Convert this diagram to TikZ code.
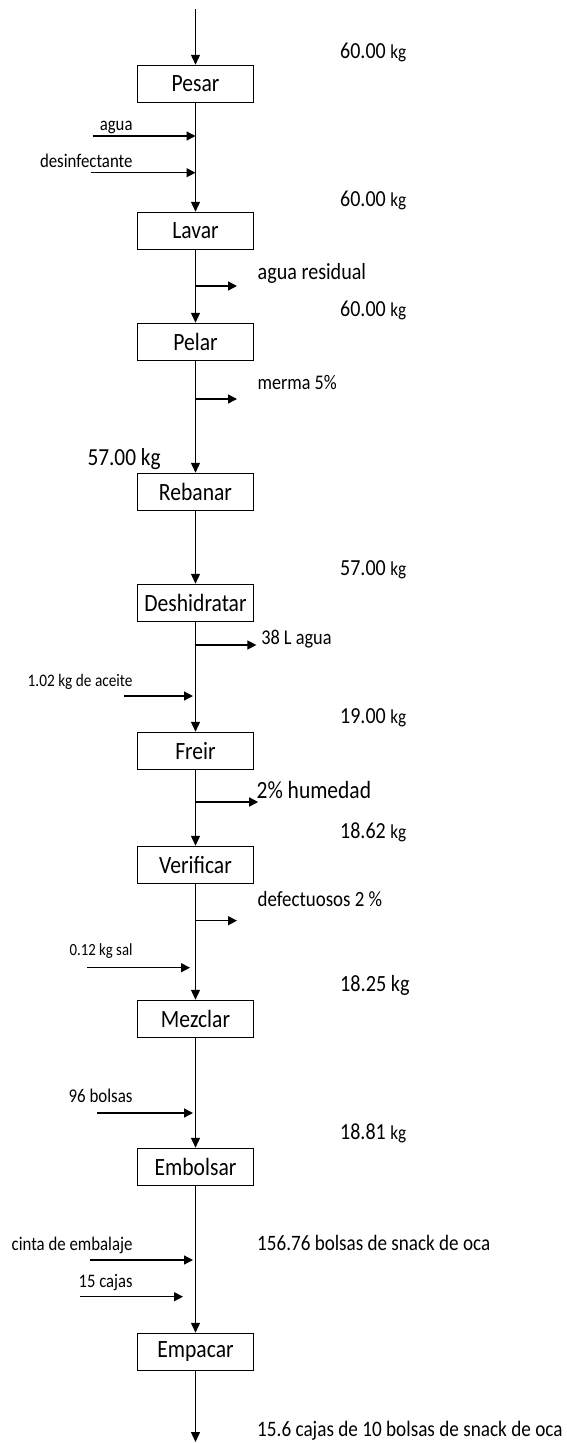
\documentclass[tikz,border=0pt]{standalone}
\usepackage{fontspec}
\setmainfont{Carlito}
\usepackage{graphicx}
\usetikzlibrary{arrows.meta}

% text is set slightly tall and narrow
\newcommand{\tall}[1]{\scalebox{1}[1.15]{#1}}
\newcommand{\fs}[1]{\fontsize{#1}{#1}\selectfont}
% a mass value: figure in a larger size, unit in a smaller one
\newcommand{\massval}[1]{\tall{\fs{20}#1 \fs{17.2}kg}}

\begin{document}
\begin{tikzpicture}[x=1pt,y=-1pt,
  stepbox/.style={draw, line width=1.5pt, minimum width=116pt, minimum height=37pt,
                  inner sep=0pt, font=\fs{21.6}},
  flow/.style={line width=1.4pt, -{Triangle[length=10pt,width=9pt]}},
  side/.style={line width=1.4pt, -{Triangle[length=9pt,width=9pt]}},
  lbl/.style={inner sep=0pt, anchor=base west},
  lbll/.style={inner sep=0pt, anchor=base east},
]
\useasboundingbox (0,0) rectangle (567,1443);

% process steps
\node[stepbox] (pesar)   at (195.5,84)   {\tall{Pesar}};
\node[stepbox] (lavar)   at (195.5,231)  {\tall{Lavar}};
\node[stepbox] (pelar)   at (195.5,342)  {\tall{Pelar}};
\node[stepbox] (rebanar) at (195.5,492)  {\tall{Rebanar}};
\node[stepbox] (deshid)  at (195.5,603)  {\tall{Deshidratar}};
\node[stepbox] (freir)   at (195.5,751)  {\tall{Freir}};
\node[stepbox] (verif)   at (195.5,865)  {\tall{Verificar}};
\node[stepbox] (mezclar) at (195.5,1019) {\tall{Mezclar}};
\node[stepbox] (embol)   at (195.5,1167) {\tall{Embolsar}};
\node[stepbox] (empacar) at (195.5,1352) {\tall{Empacar}};

\coordinate (src)  at (195.5,9);
\coordinate (sink) at (195.5,1442);

% main flow
\draw[flow] (src) -- (pesar.north);
\draw[flow] (pesar) -- (lavar);
\draw[flow] (lavar) -- (pelar);
\draw[flow] (pelar) -- (rebanar);
\draw[flow] (rebanar) -- (deshid);
\draw[flow] (deshid) -- (freir);
\draw[flow] (freir) -- (verif);
\draw[flow] (verif) -- (mezclar);
\draw[flow] (mezclar) -- (embol);
\draw[flow] (embol) -- (empacar);
\draw[flow] (empacar.south) -- (sink);

% inputs entering from the left
\coordinate (aguaA) at (92.7,136);   \coordinate (aguaB) at (195.5,136);
\coordinate (desA)  at (90.5,172.7); \coordinate (desB)  at (195.5,172.7);
\coordinate (aceA)  at (124.4,696);  \coordinate (aceB)  at (193,696);
\coordinate (salA)  at (87.3,967.7); \coordinate (salB)  at (190,967.7);
\coordinate (bolA)  at (97.1,1113);  \coordinate (bolB)  at (193,1113);
\coordinate (cinA)  at (89.5,1260);  \coordinate (cinB)  at (193,1260);
\coordinate (cajA)  at (79.6,1296.7);\coordinate (cajB)  at (183,1296.7);
\draw[side] (aguaA) -- (aguaB);
\draw[side] (desA) -- (desB);
\draw[side] (aceA) -- (aceB);
\draw[side] (salA) -- (salB);
\draw[side] (bolA) -- (bolB);
\draw[side] (cinA) -- (cinB);
\draw[side] (cajA) -- (cajB);

% outputs leaving to the right
\coordinate (resA) at (195.5,286);   \coordinate (resB) at (237,286);
\coordinate (merA) at (195.5,399);   \coordinate (merB) at (237,399);
\coordinate (litA) at (195.5,645);   \coordinate (litB) at (256.4,645);
\coordinate (humA) at (195.5,802);   \coordinate (humB) at (258.2,802);
\coordinate (defA) at (195.5,920.7); \coordinate (defB) at (237,920.7);
\draw[side] (resA) -- (resB);
\draw[side] (merA) -- (merB);
\draw[side] (litA) -- (litB);
\draw[side] (humA) -- (humB);
\draw[side] (defA) -- (defB);

% input labels
\node[lbll] (tAgua) at (132.7,130)    {\tall{\fs{16.7}agua}};
\node[lbll] (tDes)  at (132.7,167)    {\tall{\fs{16.8}desinfectante}};
\node[lbll] (tAce)  at (132.7,686)    {\tall{\fs{15.3}1.02 kg de aceite}};
\node[lbll] (tSal)  at (132.7,955)    {\tall{\fs{14.8}0.12 kg sal}};
\node[lbll] (tBol)  at (132.7,1102.7) {\tall{\fs{16.9}96 bolsas}};
\node[lbll] (tCin)  at (132.7,1250.7) {\tall{\fs{16.8}cinta de embalaje}};
\node[lbll] (tCaj)  at (132.7,1287.7) {\tall{\fs{16.6}15 cajas}};

% output labels
\node[lbl] (tRes) at (257.5,279)   {\tall{\fs{20.1}agua residual}};
\node[lbl] (tMer) at (257.5,389.3) {\tall{\fs{18.1}merma 5\%}};
\node[lbl] (tLit) at (261.1,644)   {\tall{\fs{18.3}38 L agua}};
\node[lbl] (tHum) at (256.4,798.3) {\tall{\fs{21.5}2\% humedad}};
\node[lbl] (tDef) at (257.5,906)   {\tall{\fs{18.9}defectuosos 2 \%}};

% mass balance values
\node[lbl] (m1) at (340,58)     {\massval{60.00}};
\node[lbl] (m2) at (340,206.7)  {\massval{60.00}};
\node[lbl] (m3) at (340,316)    {\massval{60.00}};
\node[lbl] (m4) at (87.3,465)   {\tall{\fs{21.3}57.00 kg}};
\node[lbl] (m5) at (340,575.7)  {\massval{57.00}};
\node[lbl] (m6) at (340,723.3)  {\massval{19.00}};
\node[lbl] (m7) at (340,838)    {\massval{18.62}};
\node[lbl] (m8) at (340,991.7)  {\tall{\fs{20.2}18.25 kg}};
\node[lbl] (m9) at (340,1139.3) {\massval{18.81}};
\node[lbl] (p1) at (257,1250.7) {\tall{\fs{19.1}156.76 bolsas de snack de oca}};
\node[lbl] (p2) at (257,1436)   {\tall{\fs{19.2}15.6 cajas de 10 bolsas de snack de oca}};
\end{tikzpicture}
\end{document}
